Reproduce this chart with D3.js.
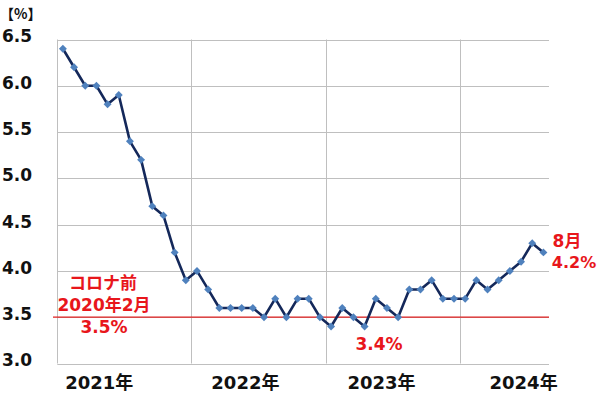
<!DOCTYPE html>
<html>
<head>
<meta charset="utf-8">
<script src="https://cdn.jsdelivr.net/npm/d3@7"></script>
<style>
  body { margin: 0; background: #fff; }
  svg { display: block; }
</style>
</head>
<body>
<svg id="chart" width="600" height="394"></svg>
<script>
// monthly unemployment rate, Jan 2021 .. Aug 2024
const months = [];
for (let yr = 2021; yr <= 2024; yr++) {
    for (let m = 1; m <= 12; m++) {
        if (yr === 2024 && m > 8) break;
        months.push(yr + "-" + String(m).padStart(2, "0"));
    }
}
const rate = [
    6.4, 6.2, 6.0, 6.0, 5.8, 5.9, 5.4, 5.2, 4.7, 4.6, 4.2, 3.9,
    4.0, 3.8, 3.6, 3.6, 3.6, 3.6, 3.5, 3.7, 3.5, 3.7, 3.7, 3.5,
    3.4, 3.6, 3.5, 3.4, 3.7, 3.6, 3.5, 3.8, 3.8, 3.9, 3.7, 3.7,
    3.7, 3.9, 3.8, 3.9, 4.0, 4.1, 4.3, 4.2
];
const years = ["2021年", "2022年", "2023年", "2024年"];
const yTicks = [3.0, 3.5, 4.0, 4.5, 5.0, 5.5, 6.0, 6.5];
const preCovid = 3.5;

const data = months.map((m, i) => ({month: m, value: rate[i]}));

const svg = d3.select("#chart");
const pLeft = 57.3, pRight = 549, pTop = 39.5, pBottom = 363.5;

const x = d3.scaleBand().domain(months).range([pLeft, pRight]);
const y = d3.scaleLinear().domain([3.0, 6.5]).range([pBottom, pTop]);

const font = "'DejaVu Sans', 'Noto Sans CJK JP', sans-serif";

// horizontal grid
svg.append("g")
    .selectAll("line")
    .data(yTicks)
    .join("line")
    .attr("x1", pLeft).attr("x2", pRight)
    .attr("y1", d => Math.round(y(d)) + 0.5).attr("y2", d => Math.round(y(d)) + 0.5)
    .attr("stroke", "#bfbfbf").attr("stroke-width", 1);

// vertical lines: left axis and year boundaries
const yearStarts = months.filter(m => m.endsWith("-01"));
svg.append("g")
    .selectAll("line")
    .data(yearStarts)
    .join("line")
    .attr("x1", d => Math.round(x(d)) + 0.5).attr("x2", d => Math.round(x(d)) + 0.5)
    .attr("y1", pTop).attr("y2", pBottom)
    .attr("stroke", "#bfbfbf").attr("stroke-width", 1);

// y labels
svg.append("g")
    .selectAll("text")
    .data(yTicks)
    .join("text")
    .attr("x", 2)
    .attr("y", d => y(d) - 3)
    .attr("dy", "0.35em")
    .attr("font-family", font)
    .attr("font-weight", "bold")
    .attr("font-size", 17)
    .attr("fill", "#111")
    .text(d => d.toFixed(1));

svg.append("text")
    .attr("x", 0).attr("y", 19)
    .attr("font-family", "'Noto Sans CJK JP', 'DejaVu Sans', sans-serif")
    .attr("font-weight", "bold")
    .attr("font-size", 14)
    .attr("fill", "#111")
    .text("【%】");

// year labels
const yearOffset = [42, 54, 56, 64];
svg.append("g")
    .selectAll("text")
    .data(years)
    .join("text")
    .attr("x", (d, i) => x(yearStarts[i]) + yearOffset[i])
    .attr("y", 389)
    .attr("text-anchor", "middle")
    .attr("font-family", font)
    .attr("font-weight", "bold")
    .attr("font-size", 18)
    .attr("fill", "#111")
    .text(d => d);

// pre-covid reference line
svg.append("line")
    .attr("x1", 53).attr("x2", pRight)
    .attr("y1", y(preCovid)).attr("y2", y(preCovid))
    .attr("stroke", "#e02020").attr("stroke-width", 1.2);

const cx = d => x(d.month) + x.bandwidth() / 2;

svg.append("path")
    .datum(data)
    .attr("fill", "none")
    .attr("stroke", "#14285a")
    .attr("stroke-width", 2.6)
    .attr("stroke-linejoin", "round")
    .attr("d", d3.line().x(cx).y(d => y(d.value)));

svg.append("g")
    .selectAll("path")
    .data(data)
    .join("path")
    .attr("transform", d => `translate(${cx(d)},${y(d.value)}) rotate(45)`)
    .attr("d", "M-2.8,-2.8h5.6v5.6h-5.6z")
    .attr("fill", "#4f81bd");

// annotations
const red = "#e8161b";
const notes = [
    {t: "コロナ前", x: 103, y: 283},
    {t: "2020年2月", x: 104, y: 305},
    {t: "3.5%", x: 104, y: 327},
    {t: "3.4%", x: 379, y: 344},
    {t: "8月", x: 567, y: 241},
    {t: "4.2%", x: 574, y: 262}
];
svg.append("g")
    .selectAll("text")
    .data(notes)
    .join("text")
    .attr("x", d => d.x).attr("y", d => d.y)
    .attr("dy", "0.35em")
    .attr("text-anchor", "middle")
    .attr("font-family", font)
    .attr("font-weight", "bold")
    .attr("font-size", d => d.t === "4.2%" ? 16 : 17)
    .attr("fill", red)
    .text(d => d.t);
</script>
</body>
</html>
